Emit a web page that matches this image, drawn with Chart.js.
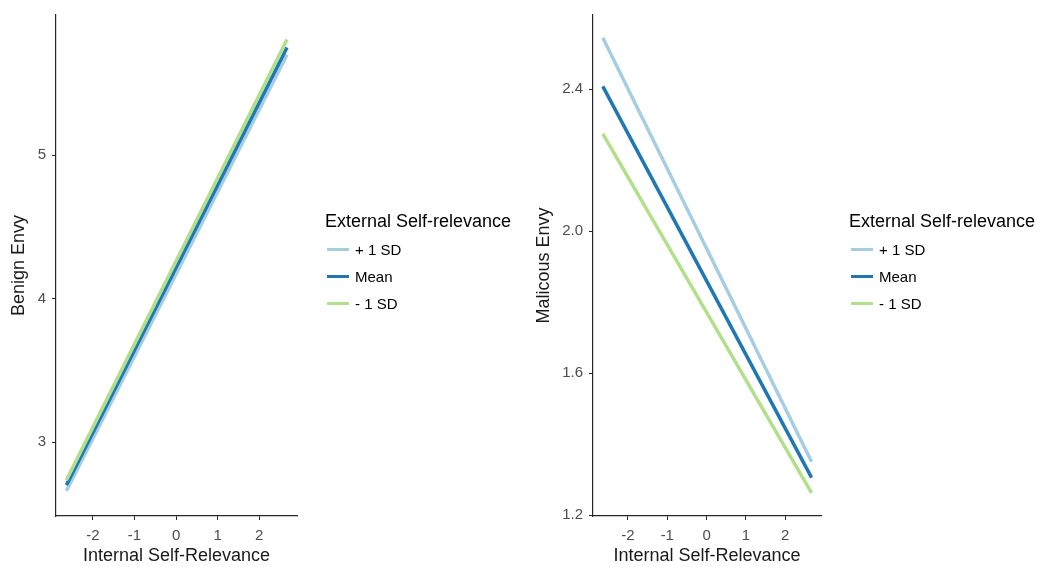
<!DOCTYPE html>
<html>
<head>
<meta charset="utf-8">
<script src="https://cdn.jsdelivr.net/npm/chart.js@4/dist/chart.umd.min.js"></script>
<style>
  html, body { margin: 0; padding: 0; background: #fff; }
  .panel { position: absolute; top: 0; width: 519px; height: 567px; }
  #left { left: 0; }
  #right { left: 519px; }
</style>
</head>
<body>
<div class="panel" id="left"><canvas id="benign" width="519" height="567"></canvas></div>
<div class="panel" id="right"><canvas id="malicious" width="519" height="567"></canvas></div>
<script>
// internal self-relevance (x), both panels share the same range
const internalSelfRelevance = [-2.64, 2.67];

const groupLabels = ["+ 1 SD", "Mean", "- 1 SD"];
const groupColors = ["#a6cee3", "#1f78b4", "#b2df8a"];

// benign envy predicted at each x, per external self-relevance level
const benignPlus = [2.66, 5.70];
const benignMean = [2.70, 5.75];
const benignMinus = [2.735, 5.805];

// malicious envy predicted at each x
const maliciousPlus = [2.545, 1.351];
const maliciousMean = [2.408, 1.306];
const maliciousMinus = [2.274, 1.263];

const xTicks = [-2, -1, 0, 1, 2];
const benignTicks = [3, 4, 5];
const maliciousTicks = [1.2, 1.6, 2.0, 2.4];

const FONT = "'Liberation Sans', Arial, sans-serif";
const AXIS = "#262626";

function toPoints(ys) {
  return ys.map((y, i) => ({ x: internalSelfRelevance[i], y }));
}

// draws the ggplot-style legend to the right of the plot area
const sideLegend = {
  id: "sideLegend",
  afterDraw(chart, args, opts) {
    const ctx = chart.ctx;
    const x0 = chart.chartArea.right + 28;
    ctx.save();
    ctx.textBaseline = "middle";
    ctx.textAlign = "left";
    ctx.fillStyle = "#000";
    ctx.font = "18px " + FONT;
    ctx.fillText(opts.title, x0, 222);
    ctx.font = "15px " + FONT;
    chart.data.datasets.forEach((ds, i) => {
      const y = 249.5 + i * 27;
      ctx.fillStyle = ds.borderColor;
      ctx.fillRect(x0 + 2, y - 1.5, 22, 3);
      ctx.fillStyle = "#000";
      ctx.fillText(ds.label, x0 + 30, y + 1);
    });
    ctx.restore();
  },
};

function buildChart(canvasId, series, yTicks, yMin, yMax, yTitle, yWidth, yTitlePad, padRight, fmt) {
  return new Chart(document.getElementById(canvasId), {
    type: "line",
    plugins: [sideLegend],
    data: {
      datasets: series.map((ys, i) => ({
        label: groupLabels[i],
        data: toPoints(ys),
        borderColor: groupColors[i],
        backgroundColor: groupColors[i],
        borderWidth: 3.5,
        pointRadius: 0,
        order: 3 - i,
      })),
    },
    options: {
      responsive: false,
      animation: false,
      devicePixelRatio: 1,
      layout: { padding: { top: 14, right: padRight, bottom: 0, left: 0 } },
      plugins: {
        legend: { display: false },
        tooltip: { enabled: false },
        sideLegend: { title: "External Self-relevance" },
      },
      scales: {
        x: {
          type: "linear",
          min: -2.89,
          max: 2.91,
          afterBuildTicks: (s) => { s.ticks = xTicks.map((v) => ({ value: v })); },
          afterFit: (s) => { s.height = 51; },
          grid: { drawOnChartArea: false, drawTicks: true, tickLength: 4, color: AXIS },
          border: { display: true, color: AXIS, width: 1.2 },
          ticks: { color: "#4d4d4d", font: { family: FONT, size: 15 }, padding: 7, maxRotation: 0 },
          title: {
            display: true,
            text: "Internal Self-Relevance",
            color: "#1a1a1a",
            font: { family: FONT, size: 18 },
            padding: { top: 0, bottom: 0 },
          },
        },
        y: {
          type: "linear",
          min: yMin,
          max: yMax,
          afterBuildTicks: (s) => { s.ticks = yTicks.map((v) => ({ value: v })); },
          afterFit: (s) => { s.width = yWidth; },
          grid: { drawOnChartArea: false, drawTicks: true, tickLength: 4, color: AXIS },
          border: { display: true, color: AXIS, width: 1.2 },
          ticks: {
            color: "#4d4d4d",
            font: { family: FONT, size: 15 },
            padding: 6,
            callback: fmt,
          },
          title: {
            display: true,
            text: yTitle,
            color: "#1a1a1a",
            font: { family: FONT, size: 18 },
            padding: { top: yTitlePad, bottom: 0 },
          },
        },
      },
    },
  });
}

buildChart("benign", [benignPlus, benignMean, benignMinus], benignTicks,
  2.485, 5.976, "Benign Envy", 56, 8, 222, (v) => String(v));

buildChart("malicious", [maliciousPlus, maliciousMean, maliciousMinus], maliciousTicks,
  1.198, 2.609, "Malicous Envy", 74, 14, 217, (v) => Number(v).toFixed(1));
</script>
</body>
</html>
